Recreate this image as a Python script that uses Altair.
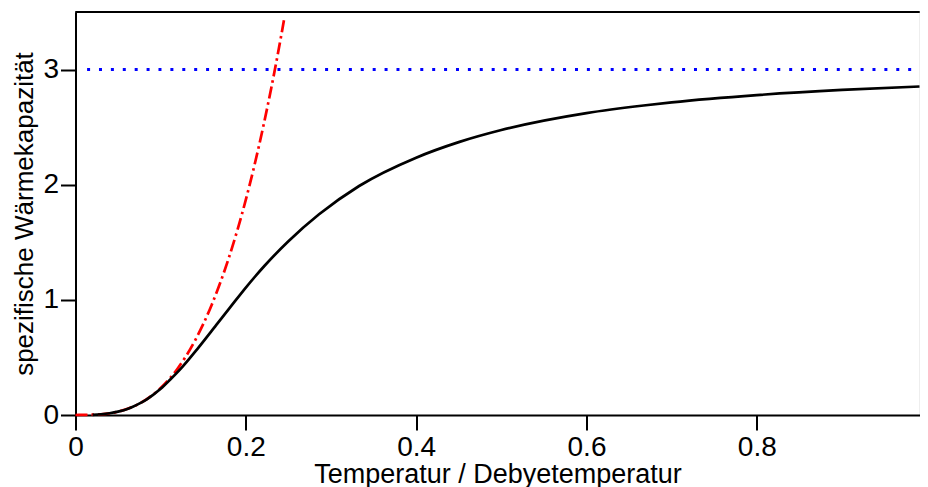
import altair as alt
import pandas as pd

# Debye heat capacity (black)
debye_t = [0.02, 0.03, 0.04, 0.05, 0.0625, 0.0714, 0.0833, 0.1, 0.111, 0.125, 0.143,
           0.167, 0.182, 0.2, 0.222, 0.25, 0.286, 0.333, 0.4, 0.45, 0.5, 0.6,
           0.667, 0.7, 0.8, 0.9, 0.991]
debye_c = [0.0019, 0.0065, 0.015, 0.029, 0.057, 0.086, 0.134, 0.227, 0.306, 0.414, 0.573,
           0.798, 0.939, 1.107, 1.296, 1.509, 1.743, 1.989, 2.235, 2.37, 2.475, 2.622,
           2.688, 2.715, 2.778, 2.823, 2.853]

# low-temperature law (red dash-dot)
t3_t = [0.0, 0.03, 0.05, 0.07, 0.08, 0.1, 0.12, 0.14, 0.16, 0.18, 0.2, 0.21, 0.22, 0.23, 0.24, 0.2455]
t3_c = [0.0, 0.0063, 0.0292, 0.0802, 0.1197, 0.234, 0.404, 0.642, 0.958, 1.364, 1.870,
        2.165, 2.490, 2.845, 3.232, 3.46]

# Dulong-Petit limit (blue dotted)
dp_t = [0.0136, 0.991]
dp_c = [3.0, 3.0]

x_ticks = [0, 0.2, 0.4, 0.6, 0.8]
y_ticks = [0, 1, 2, 3]

debye = pd.DataFrame({"t": debye_t, "c": debye_c})
t3 = pd.DataFrame({"t": t3_t, "c": t3_c})
dp = pd.DataFrame({"t": dp_t, "c": dp_c})

FONT = "Liberation Sans"
W, H = 844, 403
xscale = alt.Scale(domain=[0, 0.991], nice=False, zero=False)
yscale = alt.Scale(domain=[0, 3.5], nice=False)

axis_common = dict(
    grid=False, domainColor="black", domainWidth=2, tickColor="black", tickWidth=2,
    tickSize=15, labelFont=FONT, labelFontSize=28, labelColor="black",
    titleFont=FONT, titleColor="black", titleFontWeight="normal",
    labelFlush=False, labelOverlap=False,
)

xenc = alt.X("t:Q", scale=xscale,
             axis=alt.Axis(values=x_ticks, format="~g", title="Temperatur / Debyetemperatur",
                           labelPadding=3, titlePadding=0, titleFontSize=27, **axis_common))
yenc = alt.Y("c:Q", scale=yscale,
             axis=alt.Axis(values=y_ticks, format="d", title="spezifische Wärmekapazität",
                           labelPadding=2, titlePadding=5, titleFontSize=26, **axis_common))

blue = alt.Chart(dp).mark_line(color="#0000ff", strokeWidth=3, strokeDash=[3, 8.9],
                               strokeCap="butt").encode(x=xenc, y=yenc)
red = alt.Chart(t3).mark_line(color="#ff0000", strokeWidth=2.7, strokeDash=[12, 4, 2.5, 4],
                              interpolate="monotone").encode(x=xenc, y=yenc)
black = alt.Chart(debye).mark_line(color="black", strokeWidth=2.7,
                                   interpolate="monotone").encode(x=xenc, y=yenc)
top = alt.Chart(dp).mark_rule(color="black", strokeWidth=2).encode(
    x=alt.value(0), x2=alt.value(W), y=alt.value(0))

chart = alt.layer(blue, red, black, top).properties(
    width=W, height=H,
    autosize=alt.AutoSizeParams(type="none"),
    padding={"left": 67.5, "top": 4, "right": 0, "bottom": 72},
).configure_view(stroke=None).configure(background="white")

chart.save("out.html", embed_options={"renderer": "svg", "actions": False})
